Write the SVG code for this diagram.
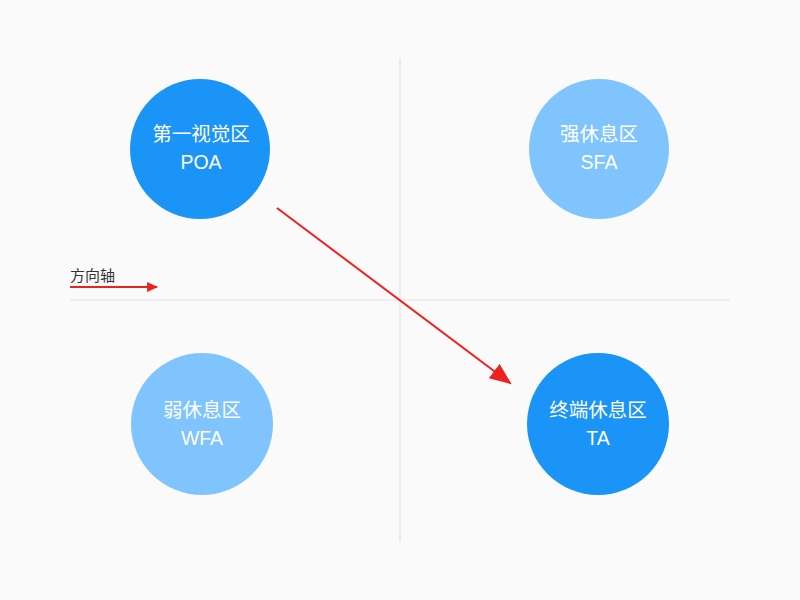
<svg xmlns="http://www.w3.org/2000/svg" width="800" height="600" viewBox="0 0 800 600">
<defs>
<style>
.dark{fill:#1a94f6}
.light{fill:#80c4fd}
.lbl{font-family:"Liberation Sans","Noto Sans CJK SC",sans-serif;font-size:19.5px;fill:#ffffff;text-anchor:middle}
.axis{stroke:#e3e3e3;stroke-width:1.2}
.red{stroke:#ef2020;stroke-width:2;fill:none}
</style>
<marker id="ah" viewBox="0 0 10 10" refX="9" refY="5" markerWidth="11" markerHeight="10" markerUnits="userSpaceOnUse" orient="auto" preserveAspectRatio="none">
<path d="M0,0 L10,5 L0,10 z" fill="#ef2020"/>
</marker>
<marker id="ahBig" viewBox="0 0 10 10" refX="9" refY="5" markerWidth="22" markerHeight="18" markerUnits="userSpaceOnUse" orient="auto" preserveAspectRatio="none">
<path d="M0,0 L10,5 L0,10 z" fill="#ef2020"/>
</marker>
</defs>
<rect width="800" height="600" fill="#fafafa"/>
<g id="axes">
<line class="axis" x1="400" y1="58" x2="400" y2="542"/>
<line class="axis" x1="70" y1="300" x2="730" y2="300"/>
</g>
<g id="POA">
<circle class="dark" cx="200" cy="149" r="70"/>
<text class="lbl" x="201" y="141">第一视觉区</text>
<text class="lbl" x="201" y="169">POA</text>
</g>
<g id="SFA">
<circle class="light" cx="599" cy="149" r="70"/>
<text class="lbl" x="599" y="141">强休息区</text>
<text class="lbl" x="599" y="169">SFA</text>
</g>
<g id="WFA">
<circle class="light" cx="202" cy="424" r="71"/>
<text class="lbl" x="202" y="417">弱休息区</text>
<text class="lbl" x="202" y="445">WFA</text>
</g>
<g id="TA">
<circle class="dark" cx="598" cy="424" r="71"/>
<text class="lbl" x="598" y="417">终端休息区</text>
<text class="lbl" x="598" y="445">TA</text>
</g>
<g id="direction">
<text x="70" y="281" font-family="Liberation Sans,'Noto Sans CJK SC',sans-serif" font-size="15" fill="#333333">方向轴</text>
<line class="red" x1="70" y1="287" x2="157" y2="287" marker-end="url(#ah)"/>
</g>
<g id="connectors">
<line class="red" x1="277" y1="208" x2="510" y2="383" marker-end="url(#ahBig)"/>
</g>
</svg>
